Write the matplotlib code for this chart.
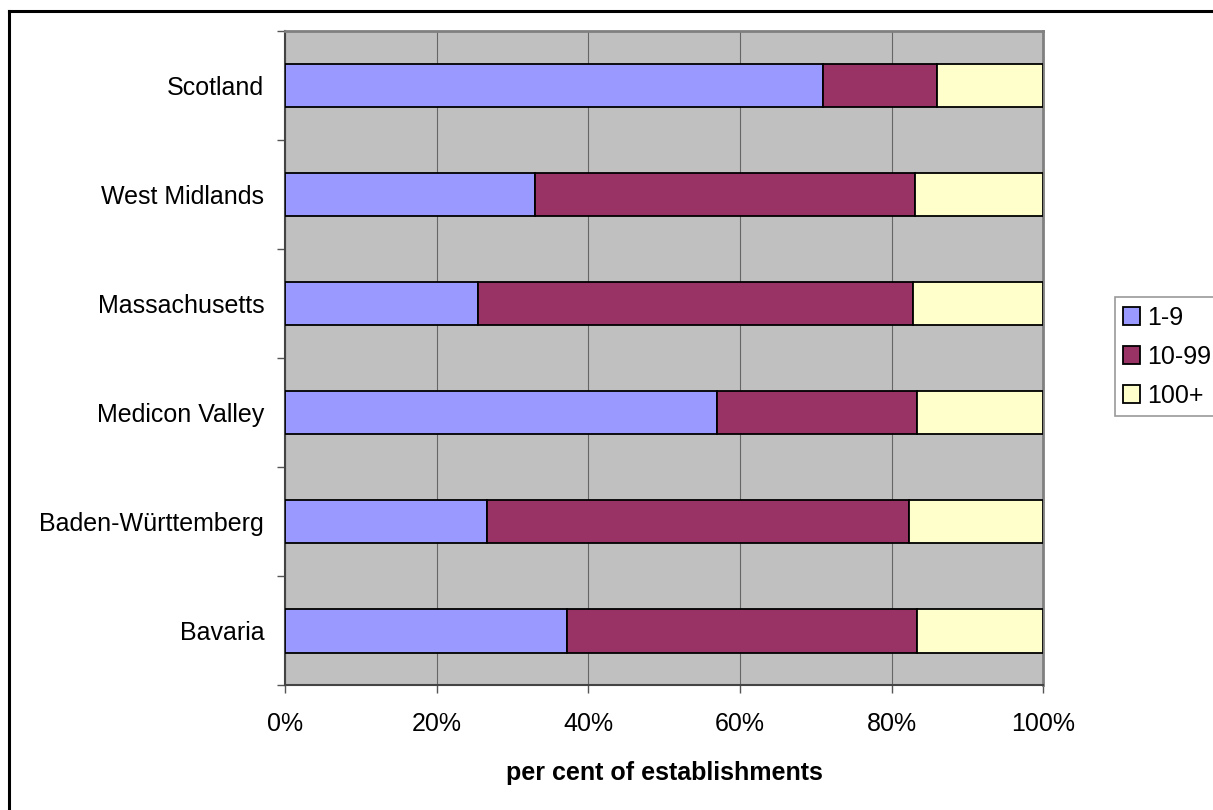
import matplotlib.pyplot as plt
import matplotlib.ticker as mticker
from matplotlib.lines import Line2D
import numpy as np

plt.rcParams['font.family'] = ['Liberation Sans', 'DejaVu Sans']

# Establishment size shares per region (per cent)
regions = ['Scotland', 'West Midlands', 'Massachusetts', 'Medicon Valley',
           'Baden-Württemberg', 'Bavaria']
small = [70.9, 33.0, 25.5, 57.0, 26.6, 37.2]      # 1-9 employees
medium = [15.1, 50.1, 57.3, 26.3, 55.7, 46.1]     # 10-99 employees
large = [14.0, 16.9, 17.2, 16.7, 17.7, 16.7]      # 100+ employees
size_labels = ['1-9', '10-99', '100+']
colours = ['#9999FF', '#993366', '#FFFFCC']

FS = 18

fig = plt.figure(figsize=(12.13, 8.10), dpi=100)
ax = fig.add_axes([0.235, 0.154, 0.625, 0.808])
ax.set_facecolor('#C0C0C0')

# Scotland at the top
y = np.arange(len(regions))[::-1]
left = np.zeros(len(regions))
for vals, lab, col in zip([small, medium, large], size_labels, colours):
    ax.barh(y, vals, height=0.4, left=left, color=col, edgecolor='black',
            linewidth=1.3, label=lab, zorder=3)
    left = left + np.array(vals)

ax.set_xlim(0, 100)
ax.set_ylim(-0.5, len(regions) - 0.5)
ax.xaxis.set_major_locator(mticker.MultipleLocator(20))
ax.xaxis.set_major_formatter(mticker.FuncFormatter(lambda v, p: f'{v:.0f}%'))
ax.grid(axis='x', color='#666666', linewidth=0.8, zorder=1)

ax.set_yticks(y)
ax.set_yticklabels(regions)
ax.set_yticks(np.arange(len(regions) + 1) - 0.5, minor=True)
ax.tick_params(axis='y', which='major', length=0, pad=15, labelsize=FS)
ax.tick_params(axis='y', which='minor', length=6, width=1, color='#555555')
ax.tick_params(axis='x', length=6, width=1, color='#555555', pad=13,
               labelsize=FS)

for side in ['left', 'bottom']:
    ax.spines[side].set_color('#444444')
    ax.spines[side].set_linewidth(1.5)
for side in ['top', 'right']:
    ax.spines[side].set_color('#808080')
    ax.spines[side].set_linewidth(2)

ax.set_xlabel('per cent of establishments', fontweight='bold', fontsize=FS,
              labelpad=18)

leg = ax.legend(loc='upper left', bbox_to_anchor=(0.919, 0.633),
                bbox_transform=fig.transFigure, fontsize=FS, frameon=True,
                fancybox=False, edgecolor='#808080', handlelength=0.68,
                handleheight=0.68, handletextpad=0.28, labelspacing=0.6,
                borderpad=0.34, borderaxespad=0)
leg.get_frame().set_linewidth(1.2)

# Chart frame (left and top edges)
fig.add_artist(Line2D([0.0075, 0.0075], [0.0, 0.987], color='black',
                      linewidth=2.2, transform=fig.transFigure))
fig.add_artist(Line2D([0.0075, 1.0], [0.987, 0.987], color='black',
                      linewidth=2.2, transform=fig.transFigure))

fig.savefig('out.png', dpi=100)
